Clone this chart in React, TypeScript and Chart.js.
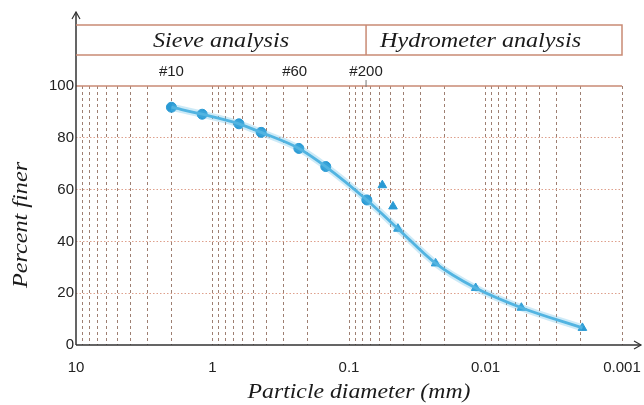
import React, { useEffect, useRef } from 'react';
import { Chart, registerables } from 'chart.js';

Chart.register(...registerables);

// ---- data ----
const sieveDiameters = [2.0, 1.19, 0.64, 0.44, 0.233, 0.148, 0.074];
const sievePercents = [91.8, 89.1, 85.4, 82.1, 75.9, 68.9, 56.0];
const hydroDiameters = [0.057, 0.0476, 0.0438, 0.0232, 0.0118, 0.00546, 0.00195];
const hydroPercents = [61.7, 53.5, 44.9, 31.5, 22.0, 14.4, 6.6];
const curveDiameters = [2.0, 1.19, 0.64, 0.44, 0.233, 0.148, 0.074, 0.0438, 0.0232, 0.0118, 0.00546, 0.00195];
const curvePercents = [91.8, 89.1, 85.4, 82.1, 75.9, 68.9, 56.0, 44.9, 31.5, 22.0, 14.4, 6.6];
const xTickLabels = ['10', '1', '0.1', '0.01', '0.001'];
const yTickValues = [0, 20, 40, 60, 80, 100];
const sieveNames = ['#10', '#60', '#200'];
const sieveOpenings = [2.0, 0.25, 0.075];
const rangeNames = ['Sieve analysis', 'Hydrometer analysis'];
const boundaryDiameter = 0.075;
const yTitle = 'Percent finer';
const xTitle = 'Particle diameter (mm)';

const SERIF = '"Liberation Serif", serif';
const SANS = '"Liberation Sans", Arial, sans-serif';
const BROWN = '#c98a74';
const AXIS = '#333333';
const STRETCH = 1.15;

const toPoints = (xs: number[], ys: number[]) => xs.map((v, i) => ({ x: v, y: ys[i] }));

function stretchedText(ctx: any, text: string, x: number, y: number, align: 'left' | 'center', sx: number) {
  ctx.save();
  ctx.translate(x, y);
  ctx.scale(sx, 1);
  ctx.textAlign = align;
  ctx.fillText(text, 0, 0);
  ctx.restore();
}

const overlay = {
  id: 'overlay',
  beforeDatasetsDraw(chart: any) {
    const { ctx, chartArea: a, scales } = chart;
    const x = scales.x;
    const y = scales.y;
    ctx.save();
    const y100 = y.getPixelForValue(100);
    ctx.strokeStyle = BROWN;
    ctx.lineWidth = 1.5;
    ctx.beginPath();
    ctx.moveTo(a.left, y100);
    ctx.lineTo(a.right, y100);
    ctx.stroke();
    const xb = x.getPixelForValue(boundaryDiameter);
    ctx.strokeStyle = '#777';
    ctx.lineWidth = 1;
    ctx.beginPath();
    ctx.moveTo(xb, y100 - 6);
    ctx.lineTo(xb, y100 + 1);
    ctx.stroke();
    ctx.restore();
  },
  afterDraw(chart: any) {
    const { ctx, chartArea: a, scales } = chart;
    const x = scales.x;
    ctx.save();
    ctx.strokeStyle = AXIS;
    ctx.lineWidth = 1.5;
    const tipY = a.top - 74;
    const tipX = 641;
    ctx.beginPath();
    ctx.moveTo(a.left, a.bottom);
    ctx.lineTo(a.left, tipY);
    ctx.moveTo(a.left, a.bottom);
    ctx.lineTo(tipX, a.bottom);
    ctx.stroke();
    ctx.lineWidth = 1.2;
    ctx.beginPath();
    ctx.moveTo(a.left - 4, tipY + 7);
    ctx.lineTo(a.left, tipY);
    ctx.lineTo(a.left + 4, tipY + 7);
    ctx.moveTo(tipX - 7, a.bottom - 4);
    ctx.lineTo(tipX, a.bottom);
    ctx.lineTo(tipX - 7, a.bottom + 4);
    ctx.stroke();

    const boxTop = a.top - 61;
    const boxBottom = a.top - 31;
    const xb = x.getPixelForValue(boundaryDiameter);
    ctx.strokeStyle = BROWN;
    ctx.lineWidth = 1.5;
    ctx.beginPath();
    ctx.moveTo(a.left, boxTop);
    ctx.lineTo(a.right, boxTop);
    ctx.lineTo(a.right, boxBottom);
    ctx.lineTo(a.left, boxBottom);
    ctx.moveTo(xb, boxTop);
    ctx.lineTo(xb, boxBottom);
    ctx.stroke();

    ctx.fillStyle = '#1a1a1a';
    ctx.font = 'italic 21px ' + SERIF;
    ctx.textBaseline = 'middle';
    const midBox = (boxTop + boxBottom) / 2 + 1;
    stretchedText(ctx, rangeNames[0], (a.left + xb) / 2, midBox, 'center', STRETCH);
    stretchedText(ctx, rangeNames[1], xb + 14, midBox, 'left', STRETCH);

    // axis titles
    ctx.font = 'italic 22px ' + SERIF;
    stretchedText(ctx, xTitle, (a.left + a.right) / 2 + 10, a.bottom + 47, 'center', 1.08);
    ctx.save();
    ctx.translate(21, 225);
    ctx.rotate(-Math.PI / 2);
    stretchedText(ctx, yTitle, 0, 0, 'center', 1.1);
    ctx.restore();

    ctx.font = '15px ' + SANS;
    ctx.fillStyle = '#222';
    ctx.textAlign = 'center';
    sieveNames.forEach((n, i) => {
      ctx.fillText(n, x.getPixelForValue(sieveOpenings[i]), a.top - 14);
    });
    ctx.restore();
  },
};

export default function App() {
  const ref = useRef<HTMLCanvasElement | null>(null);
  useEffect(() => {
    if (!ref.current) return;
    const chart = new Chart(ref.current, {
      type: 'scatter',
      data: {
        datasets: [
          {
            label: 'glow',
            data: toPoints(curveDiameters, curvePercents),
            showLine: true,
            borderColor: 'rgba(90,185,230,0.3)',
            borderWidth: 7,
            pointRadius: 0,
            tension: 0.4,
            cubicInterpolationMode: 'monotone',
          },
          {
            label: 'curve',
            data: toPoints(curveDiameters, curvePercents),
            showLine: true,
            borderColor: '#4fb2e0',
            borderWidth: 2.8,
            pointRadius: 0,
            tension: 0.4,
            cubicInterpolationMode: 'monotone',
          },
          {
            label: 'Sieve',
            data: toPoints(sieveDiameters, sievePercents),
            pointStyle: 'circle',
            pointRadius: 5,
            backgroundColor: '#2a9ad4',
            borderColor: '#2a9ad4',
          },
          {
            label: 'Hydrometer',
            data: toPoints(hydroDiameters, hydroPercents),
            pointStyle: 'triangle',
            pointRadius: 5,
            backgroundColor: '#2a9ad4',
            borderColor: '#2a9ad4',
          },
        ],
      },
      options: {
        responsive: false,
        animation: false,
        layout: { padding: { top: 86, right: 22, left: 0, bottom: 0 } },
        plugins: { legend: { display: false }, tooltip: { enabled: false } },
        scales: {
          x: {
            type: 'logarithmic',
            reverse: true,
            min: 0.001,
            max: 10,
            afterBuildTicks: (scale: any) => {
              const t: any[] = [];
              for (let e = -3; e <= 1; e++) {
                for (let m = 1; m <= 9; m++) {
                  const v = parseFloat((m * Math.pow(10, e)).toPrecision(6));
                  if (v <= 10) t.push({ value: v });
                }
              }
              scale.ticks = t;
            },
            afterFit: (scale: any) => {
              scale.height = 60;
            },
            ticks: {
              autoSkip: false,
              maxRotation: 0,
              padding: 14,
              color: '#222',
              font: { family: SANS, size: 15 },
              callback: (v: any) => {
                const found = xTickLabels.find((l) => Math.abs(Math.log10(parseFloat(l)) - Math.log10(v)) < 1e-6);
                return found ? found : '';
              },
            },
            grid: {
              drawTicks: false,
              color: (c: any) => (c.tick && Math.abs(c.tick.value - 10) < 1e-9 ? 'rgba(0,0,0,0)' : '#9e7f72'),
              lineWidth: 1,
            },
            border: { display: false, dash: [3, 3] },
            title: { display: false },
          },
          y: {
            min: 0,
            max: 100,
            afterBuildTicks: (scale: any) => {
              scale.ticks = yTickValues.map((v) => ({ value: v }));
            },
            afterFit: (scale: any) => {
              scale.width = 76;
            },
            ticks: {
              padding: 2,
              color: '#222',
              font: { family: SANS, size: 15 },
            },
            grid: {
              drawTicks: false,
              color: (c: any) => (c.tick && (c.tick.value === 0 || c.tick.value === 100) ? 'rgba(0,0,0,0)' : '#dea08c'),
              lineWidth: 1,
            },
            border: { display: false, dash: [1.5, 2] },
            title: { display: false },
          },
        },
      },
      plugins: [overlay],
    } as any);
    return () => chart.destroy();
  }, []);

  return (
    <div style={{ position: 'fixed', left: 0, top: 0, width: 644, height: 405, background: '#fff' }}>
      <canvas ref={ref} width={644} height={405} style={{ display: 'block', width: 644, height: 405 }} />
    </div>
  );
}
